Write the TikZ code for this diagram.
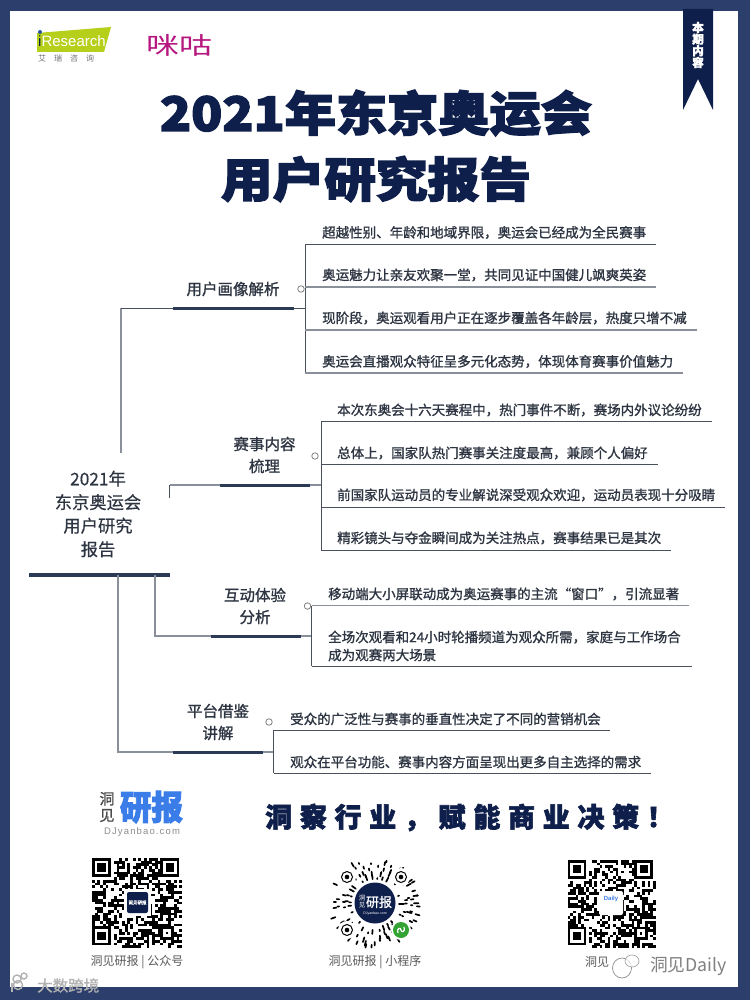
\documentclass[tikz,border=0pt]{standalone}
\usepackage{fontspec}
\usepackage{graphicx}
\setmainfont{Noto Sans CJK SC}[BoldFont=*,BoldFeatures={FakeBold=1.2}]
\newfontfamily\heavy{Noto Sans CJK SC}[BoldFeatures={FakeBold=2.8}]
\newfontfamily\medi{Noto Sans CJK SC}[BoldFont=*,BoldFeatures={FakeBold=.5}]
\newfontfamily\slogan{Noto Sans CJK SC}[BoldFeatures={FakeBold=2.2},LetterSpace=28.5]
\newfontfamily\latin{Liberation Sans}
\definecolor{frame}{HTML}{2C3E6B}
\definecolor{ink}{HTML}{0F1F4B}
\definecolor{barc}{HTML}{2B3A55}
\definecolor{linec}{HTML}{4A515C}
\definecolor{lineg}{HTML}{8A9099}
\definecolor{textc}{HTML}{2E3542}
\definecolor{lime}{HTML}{B5CF1B}
\definecolor{magent}{HTML}{B5177F}
\definecolor{blu}{HTML}{3B7DE8}
\tikzset{
 leaf/.style={anchor=west,inner sep=0pt,text=textc,font=\fontsize{13.5}{18}\selectfont\bfseries,align=left},
 blabel/.style={inner sep=0pt,text=textc,font=\fontsize{15.5}{22}\selectfont\bfseries,align=center},
 rootlabel/.style={inner sep=0pt,text=textc,font=\medi\fontsize{17.3}{23.5}\selectfont\bfseries,align=center},
 barline/.style={line width=3pt,draw=barc},
 conn/.style={line width=1pt,draw=linec},
 conng/.style={line width=1.2pt,draw=lineg},
 leafline/.style={line width=1pt,draw=linec},
 leaflineg/.style={line width=1.2pt,draw=lineg},
 togglec/.style={circle,draw=gray,fill=white,line width=.8pt,minimum size=6.5pt,inner sep=0pt},
 caption/.style={inner sep=0pt,text=black!65,font=\fontsize{12}{14}\selectfont},
}
\newcommand{\myqr}[3]{%
 \begin{scope}[shift={(#1,#2)},x=#3pt,y=-#3pt]
  \foreach \i in {0,...,32}{\foreach \j in {0,...,32}{%
    \pgfmathsetmacro\rr{rnd}%
    \ifdim\rr pt<0.52pt \fill (\i,\j) rectangle ++(1.02,1.02);\fi}}
  \foreach \a/\b in {0/0,25/0,0/25}{%
   \fill[white] (\a,\b) rectangle ++(8,8);
   \fill (\a,\b) rectangle ++(7,7);
   \fill[white] (\a+1,\b+1) rectangle ++(5,5);
   \fill (\a+2,\b+2) rectangle ++(3,3);}
  \fill (25,25) rectangle ++(5,5);
  \fill[white] (26,26) rectangle ++(3,3);
  \fill (27,27) rectangle ++(1,1);
 \end{scope}}
\begin{document}
\begin{tikzpicture}[x=1pt,y=-1pt]
\useasboundingbox (0,0) rectangle (750,1000);
\fill[frame] (0,0) rectangle (750,1000);
\fill[white] (10,11) rectangle (738,987);
% ribbon
\fill[ink] (683,9) -- (713,9) -- (713,110) -- (698,79) -- (683,110) -- cycle;
\node[inner sep=0pt,text=white,align=center,font=\heavy\fontsize{11.5}{11.7}\selectfont\bfseries] (ribbon) at (698,45) {本\\期\\内\\容};
% logos
\fill[lime] (37,33) -- (111,27) -- (104,52) -- (37,52) -- cycle;
\fill[blu!70!black] (40,32) circle (2);
\node[anchor=west,inner sep=0pt,text=white,font=\latin\fontsize{15}{15}\selectfont] (ires) at (38,41) {\textcolor{ink}{i}Research};
\node[anchor=west,inner sep=0pt,text=black!55,font=\fontsize{8}{8}\selectfont] (irescn) at (38,58) {艾\hspace{1em}瑞\hspace{1em}咨\hspace{1em}询};
\node[inner sep=0pt,text=magent,font=\fontsize{27}{27}\selectfont] (migu) at (179,45) {\resizebox{66pt}{20pt}{咪咕}};
% title
\node[inner sep=0pt,text=ink] (t1) at (376,113) {\resizebox{432pt}{41pt}{\heavy\bfseries\fontsize{50}{50}\selectfont 2021年东京奥运会}};
\node[inner sep=0pt,text=ink] (t2) at (376,179) {\resizebox{310pt}{41pt}{\heavy\bfseries\fontsize{50}{50}\selectfont 用户研究报告}};
% root
\node[rootlabel] (root) at (98,514) {2021年\\东京奥运会\\用户研究\\报告};
\coordinate (rL) at (29,575); \coordinate (rR) at (169.5,575);
\draw[line width=3.5pt,draw=barc] (rL) -- (rR);
% branch 1
\node[blabel] (b1) at (233,289) {用户画像解析};
\coordinate (b1L) at (173,308); \coordinate (b1R) at (294,308);
\coordinate (b1S) at (121,453); \coordinate (b1K) at (121,308);
\coordinate (b1V) at (305,308);
\coordinate (b1T) at (305,244); \coordinate (b1B) at (305,373);
\draw[conng] (b1S) -- (b1K);
\draw[conn] (b1K) -- (b1L);
\draw[conn] (b1R) -- (b1V);
\draw[barline] (b1L) -- (b1R);
\draw[leafline] (b1T) -- (b1B);
\draw[leafline] (b1T) -- ++(351,0);
\draw[leaflineg] (305,287) -- ++(351,0);
\draw[leaflineg] (305,330) -- ++(392,0);
\draw[leaflineg] (b1B) -- ++(378,0);
\node[togglec] (c1) at (301,289) {};
\node[leaf] (l11) at (322,232.5) {超越性别、年龄和地域界限，奥运会已经成为全民赛事};
\node[leaf] (l12) at (322,275) {奥运魅力让亲友欢聚一堂，共同见证中国健儿飒爽英姿};
\node[leaf] (l13) at (322,318) {现阶段，奥运观看用户正在逐步覆盖各年龄层，热度只增不减};
\node[leaf] (l14) at (322,361.5) {奥运会直播观众特征呈多元化态势，体现体育赛事价值魅力};
% branch 2
\node[blabel] (b2) at (264.5,455) {赛事内容\\梳理};
\coordinate (b2L) at (220,485); \coordinate (b2R) at (310,485);
\coordinate (b2S) at (169.5,498); \coordinate (b2K) at (169.5,485);
\coordinate (b2V) at (321,485);
\coordinate (b2T) at (321,421.5); \coordinate (b2B) at (321,550);
\draw[conng] (b2K) -- (b2L);
\draw[conn] (b2S) -- (b2K);
\draw[conng] (b2R) -- (b2V);
\draw[barline] (b2L) -- (b2R);
\draw[leafline] (b2T) -- (b2B);
\draw[leafline] (b2T) -- ++(391,0);
\draw[leafline] (321,464) -- ++(337,0);
\draw[leafline] (321,507) -- ++(404,0);
\draw[leafline] (b2B) -- ++(350,0);
\node[togglec] (c2) at (315,456) {};
\node[leaf] (l21) at (337,410) {本次东奥会十六天赛程中，热门事件不断，赛场内外议论纷纷};
\node[leaf] (l22) at (337,453) {总体上，国家队热门赛事关注度最高，兼顾个人偏好};
\node[leaf] (l23) at (337,495) {前国家队运动员的专业解说深受观众欢迎，运动员表现十分吸睛};
\node[leaf] (l24) at (337,538) {精彩镜头与夺金瞬间成为关注热点，赛事结果已是其次};
% branch 3
\node[blabel] (b3) at (255,606) {互动体验\\分析};
\coordinate (b3L) at (211,636); \coordinate (b3R) at (301,636);
\coordinate (b3S) at (155,575); \coordinate (b3K) at (155,636);
\coordinate (b3V) at (311.5,636);
\coordinate (b3T) at (311.5,605.5); \coordinate (b3B) at (311.5,666);
\draw[conng] (b3S) -- (b3K) -- (b3L);
\draw[conng] (b3R) -- (b3V);
\draw[barline] (b3L) -- (b3R);
\draw[leafline] (b3T) -- (b3B);
\draw[leaflineg] (b3T) -- ++(377.5,0);
\draw[leafline] (b3B) -- ++(380.5,0);
\node[togglec] (c3) at (307.5,606) {};
\node[leaf] (l31) at (328,594) {移动端大小屏联动成为奥运赛事的主流“窗口”，引流显著};
\node[leaf] (l32) at (328,646) {全场次观看和24小时轮播频道为观众所需，家庭与工作场合\\成为观赛两大场景};
% branch 4
\node[blabel] (b4) at (218,722) {平台借鉴\\讲解};
\coordinate (b4L) at (173,752); \coordinate (b4R) at (262.5,752);
\coordinate (b4S) at (118,575); \coordinate (b4K) at (118,752);
\coordinate (b4V) at (273.5,752);
\coordinate (b4T) at (273.5,730); \coordinate (b4B) at (273.5,773);
\draw[conng] (b4S) -- (b4K) -- (b4L);
\draw[conng] (b4R) -- (b4V);
\draw[barline] (b4L) -- (b4R);
\draw[leafline] (b4T) -- (b4B);
\draw[leafline] (b4T) -- ++(336.5,0);
\draw[leafline] (b4B) -- ++(377.5,0);
\node[togglec] (c4) at (269,722) {};
\node[leaf] (l41) at (290,719) {受众的广泛性与赛事的垂直性决定了不同的营销机会};
\node[leaf] (l42) at (290,762) {观众在平台功能、赛事内容方面呈现出更多自主选择的需求};
% footer brand
\node[inner sep=0pt,align=center,text=black!70,font=\fontsize{15}{16.5}\selectfont\bfseries] (dj1) at (107,807) {洞\\见};
\node[inner sep=0pt,text=blu] (dj2) at (151.5,807) {\resizebox{63pt}{29pt}{\heavy\bfseries\fontsize{30}{30}\selectfont 研报}};
\node[inner sep=0pt,text=black!45,font=\latin\fontsize{9.5}{10}\selectfont] (dj3) at (142,832) {\addfontfeature{LetterSpace=12}DJyanbao.com};
\node[inner sep=0pt,text=ink,anchor=west] (sl) at (265,817.5) {\slogan\bfseries\fontsize{27}{27}\selectfont 洞察行业，赋能商业决策！};
% QR
\pgfmathsetseed{2021}
\myqr{92}{858}{2.73}
\fill[white] (124,889) rectangle (151,916);
\fill[ink,rounded corners=2pt] (127,892) rectangle (148,913);
\node[inner sep=0pt,text=white,font=\fontsize{4.5}{5}\selectfont\bfseries] (qr1t) at (137.5,902.5) {洞见研报};
\myqr{567.5}{860}{2.67}
\fill[white,rounded corners=2pt] (599,891) rectangle (623,915);
\node[inner sep=0pt,text=blu,font=\latin\fontsize{6}{6}\selectfont\bfseries] (qr3t) at (611,899) {Daily};
% mini program code
\begin{scope}[shift={(375,903)}]
 \foreach \r in {24,27,30,33,36,39,42}{
  \foreach \k in {0,...,31}{
   \pgfmathsetmacro\st{\k*360/32+rnd*6}
   \pgfmathsetmacro\ln{2+rnd*8}
   \pgfmathsetmacro\on{rnd}
   \ifdim\on pt<0.55pt
    \draw[line width=1.7pt,line cap=round] (\st:\r) -- (\st:\r+\ln*.5);
   \fi
  }}
 \foreach \p/\q in {-28/-26,26/-26,-28/27}{
  \fill[white] (\p,\q) circle (9);
  \draw[line width=1pt] (\p,\q) circle (5.5);
  \fill (\p,\q) circle (2.3);}
 \fill[ink] (0,0) circle (20.5);
 \node[inner sep=0pt,text=white,align=center,font=\fontsize{6.5}{7}\selectfont] (m1) at (-13,-1) {洞\\见};
 \node[inner sep=0pt,text=white,font=\fontsize{13}{13}\selectfont\bfseries] (m2) at (4,-1) {研报};
 \node[inner sep=0pt,text=white,font=\latin\fontsize{3.5}{4}\selectfont] (m3) at (0,11) {DJyanbao.com};
 \fill[white] (26,27) circle (10);
 \fill[green!55!black!80] (26,27) circle (8);
 \draw[white,line width=1.2pt] (23,30) .. controls (21,25) and (26,24) .. (26,27) .. controls (26,30) and (31,29) .. (29,24);
\end{scope}
% captions
\node[caption] (cap1) at (137,962) {洞见研报 | 公众号};
\node[caption] (cap2) at (375,962) {洞见研报 | 小程序};
\node[caption,anchor=west] (cap3) at (585,962) {洞见};
% watermark right
\draw[black!45,line width=.7pt,fill=white,fill opacity=.7] (622,968) ellipse (9.5 and 10);
\draw[black!35,line width=.7pt,fill=white,fill opacity=.7] (632,961) ellipse (7 and 6);
\node[inner sep=0pt,anchor=west,text=black!50,font=\fontsize{17.7}{17.7}\selectfont] (wm2) at (650,966) {洞见Daily};
% watermark left
\draw[black!30,line width=1.4pt] (17,979) circle (4);
\draw[black!30,line width=1.4pt] (24,976) circle (3);
\draw[black!30,line width=1.4pt] (12,983) -- (12,992);
\draw[black!30,line width=1.4pt] (18,985) circle (4.5);
\node[inner sep=0pt,anchor=west,text=black!30,font=\fontsize{15.5}{15.5}\selectfont\bfseries] (wm1) at (37,985.5) {大数跨境};
\end{tikzpicture}
\end{document}
